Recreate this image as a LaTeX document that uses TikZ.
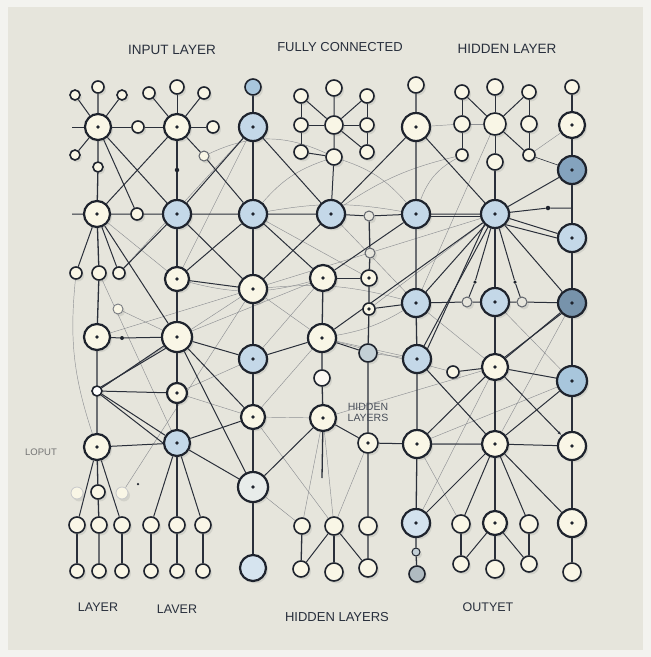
\documentclass[tikz,border=0pt]{standalone}
\usepackage{fontspec}
\setmainfont{Liberation Sans}
\usetikzlibrary{shadows,arrows.meta}
\definecolor{outer}{RGB}{243,243,239}
\definecolor{panel}{RGB}{230,229,220}
\definecolor{ink}{RGB}{30,35,45}
\definecolor{cream}{RGB}{249,246,230}
\definecolor{lblue}{RGB}{196,216,232}
\definecolor{mblue}{RGB}{168,198,220}
\definecolor{dblue}{RGB}{132,163,190}
\definecolor{gblue}{RGB}{196,208,214}
\definecolor{pale}{RGB}{232,236,234}
\definecolor{edgec}{RGB}{42,47,58}
\definecolor{thinc}{RGB}{128,131,136}
\definecolor{txt}{RGB}{40,47,60}
\pgfdeclarelayer{back}
\pgfdeclarelayer{edges}
\pgfsetlayers{back,edges,main}
\tikzset{
  nd/.style={circle, draw=ink, inner sep=0pt, line width=2.2pt, minimum size={2pt*#1},
    drop shadow={shadow xshift=2pt, shadow yshift=-2.4pt, opacity=0.15, fill=black!60}},
  sm/.style={line width=1.6pt},
  cr/.style={fill=cream},
  lb/.style={fill=lblue},
  mb/.style={fill=mblue},
  db/.style={fill=dblue},
  gb/.style={fill=gblue},
  pl/.style={fill=pale},
  ho/.style={fill=panel, draw=ink!70, line width=1pt},
  dt/.style={path picture={\fill[ink] (path picture bounding box.center) circle (1.8pt);}},
  dd/.style={circle, fill=ink, inner sep=0pt, minimum size=#1},
  ed/.style={draw=edgec, line width=1pt},
  vl/.style={draw=edgec, line width=1.3pt},
  gl/.style={draw=thinc, line width=0.45pt, opacity=0.85},
  ttl/.style={text=txt, font=\fontsize{13.5}{15}\selectfont, inner sep=0pt},
  btm/.style={text=txt, font=\fontsize{12.5}{14}\selectfont, inner sep=0pt},
}
\begin{document}
\begin{tikzpicture}[x=1pt, y=-1pt]
\useasboundingbox (0,0) rectangle (651,657);
\begin{pgfonlayer}{back}
\fill[outer] (0,0) rectangle (651,657);
\fill[panel] (8,7) rectangle (643,650);
\end{pgfonlayer}

% ---------- titles ----------
\node[ttl] (t1) at (172,50) {INPUT LAYER};
\node[ttl, font=\fontsize{13}{15}\selectfont] (t2) at (340,47) {FULLY CONNECTED};
\node[ttl] (t3) at (507,49) {HIDDEN LAYER};
\node[btm] (t4) at (98,607) {LAYER};
\node[btm] (t5) at (177,609) {LAVER};
\node[btm, font=\fontsize{13}{15}\selectfont] (t6) at (337,617) {HIDDEN LAYERS};
\node[btm] (t7) at (488,607) {OUTYET};
\node[text=black!55, font=\fontsize{9.5}{11}\selectfont, inner sep=0pt] (t8) at (41,452) {LOPUT};
\node[text=txt!85, font=\fontsize{10.5}{12}\selectfont, inner sep=0pt, align=center] (t9) at (368,412) {HIDDEN\\[-1pt]LAYERS};

% ---------- column 1 ----------
\coordinate (s1) at (72,127);
\coordinate (s2) at (72,214);
\node[nd=5,sm,cr] (a0s1) at (75,95) {};
\node[nd=6,sm,cr] (a0s2) at (98,87) {};
\node[nd=5,sm,cr] (a0s3) at (122,95) {};
\node[nd=13,cr,dt] (a1) at (98,127) {};
\node[nd=5,sm,cr] (a0s4) at (75,155) {};
\node[nd=5,sm,cr] (a0s5) at (98,167) {};
\node[nd=6,sm,cr] (a1m) at (138,127) {};
\node[nd=13,cr,dt] (a2) at (97,214) {};
\node[nd=6,sm,cr] (a2m) at (137,214) {};
\node[nd=6,sm,cr] (a3l) at (76,273) {};
\node[nd=7,sm,cr] (a3) at (99,273) {};
\node[nd=6,sm,cr] (a3r) at (119,273) {};
\node[nd=5,sm,cr,draw=ink!60,line width=0.9pt] (a3b) at (118,309) {};
\node[nd=13,cr,dt] (a4) at (97,337) {};
\node[dd=4pt] (a4d) at (122,338) {};
\node[nd=5,sm,fill=white] (a5) at (97,391) {};
\node[nd=13,cr,dt] (a6) at (97,447) {};
\node[nd=7,sm,cr] (a7) at (98,492) {};
\node[nd=6,sm,cr,draw=ink!25,line width=0.8pt] (a7l) at (77,493) {};
\node[nd=6,sm,cr,draw=ink!25,line width=0.8pt] (a7r) at (122,493) {};
\node[dd=2.5pt] (a7d) at (138,484) {};
\node[nd=8,sm,cr] (a8a) at (77,525) {};
\node[nd=8,sm,cr] (a8b) at (99,525) {};
\node[nd=8,sm,cr] (a8c) at (122,525) {};
\node[nd=7,sm,cr] (a9a) at (77,571) {};
\node[nd=7,sm,cr] (a9b) at (99,571) {};
\node[nd=7,sm,cr] (a9c) at (122,571) {};

% ---------- column 2 ----------
\node[nd=6,sm,cr] (b0s1) at (149,93) {};
\node[nd=7,sm,cr] (b0s2) at (177,87) {};
\node[nd=6,sm,cr] (b0s3) at (204,93) {};
\node[nd=13,cr,dt] (b1) at (177,127) {};
\node[nd=6,sm,cr] (b1m) at (213,127) {};
\node[nd=5,sm,cr,draw=ink!70,line width=1pt] (b1s) at (204,156) {};
\node[dd=4.5pt] (b1d) at (177,170) {};
\node[nd=14,lb,dt] (b2) at (177,214) {};
\node[nd=12,cr,dt] (b3) at (177,279) {};
\node[nd=15,cr,dt] (b4) at (177,337) {};
\node[nd=10,cr,dt] (b5) at (177,393) {};
\node[nd=13,lb,dt] (b6) at (177,443) {};
\node[nd=8,sm,cr] (b8a) at (151,525) {};
\node[nd=8,sm,cr] (b8b) at (177,525) {};
\node[nd=8,sm,cr] (b8c) at (203,525) {};
\node[nd=7,sm,cr] (b9a) at (151,571) {};
\node[nd=7,sm,cr] (b9b) at (177,571) {};
\node[nd=7,sm,cr] (b9c) at (203,571) {};

% ---------- column 3 ----------
\node[nd=8,sm,mb] (c0) at (253,87) {};
\node[nd=14,lb,dt] (c1) at (253,127) {};
\node[nd=14,lb,dt] (c2) at (253,214) {};
\node[nd=14,cr,dt] (c3) at (253,289) {};
\node[nd=14,lb,dt] (c4) at (253,359) {};
\node[nd=12,cr,dt] (c5) at (253,417) {};
\node[nd=15,pl,dt] (c6) at (253,487) {};
\node[nd=13,fill=lblue!70!white] (c9) at (253,568) {};

% ---------- column 4 / 5 ----------
\node[nd=7,sm,cr] (d0a) at (301,96) {};
\node[nd=8,sm,cr] (d0b) at (334,88) {};
\node[nd=7,sm,cr] (d0c) at (367,96) {};
\node[nd=7,sm,cr] (d1a) at (301,125) {};
\node[nd=9,sm,cr] (d1b) at (334,125) {};
\node[nd=7,sm,cr] (d1c) at (367,125) {};
\node[nd=7,sm,cr] (d2a) at (301,152) {};
\node[nd=8,sm,cr] (d2b) at (334,157) {};
\node[nd=7,sm,cr] (d2c) at (367,152) {};
\node[nd=14,lb,dt] (d3) at (331,214) {};
\node[nd=5,ho] (d3m) at (369,216) {};
\node[nd=5,ho] (d3n) at (370,253) {};
\node[nd=13,cr,dt] (d4) at (323,278) {};
\node[nd=8,sm,cr,dt] (d4m) at (369,278) {};
\node[nd=6,sm,cr,dt] (d4n) at (369,309) {};
\node[nd=14,cr,dt] (d5) at (322,338) {};
\node[nd=9,sm,gb] (d5m) at (368,353) {};
\node[nd=8,sm,fill=cream!80!brown!20] (d5s) at (322,378) {};
\node[nd=13,cr,dt] (d6) at (323,418) {};
\node[nd=10,sm,cr,dt] (d6m) at (368,443) {};
\coordinate (d6e) at (322,478);
\node[nd=8,sm,cr] (d8a) at (302,526) {};
\node[nd=9,sm,cr] (d8b) at (334,526) {};
\node[nd=9,sm,cr] (d8c) at (368,526) {};
\node[nd=8,sm,cr] (d9a) at (301,569) {};
\node[nd=9,sm,cr] (d9b) at (334,572) {};
\node[nd=9,sm,cr] (d9c) at (368,568) {};

% ---------- column 6 ----------
\node[nd=8,sm,cr] (e0) at (416,85) {};
\node[nd=14,cr,dt] (e1) at (416,127) {};
\node[nd=14,lb,dt] (e2) at (416,214) {};
\node[nd=14,lb,dt] (e3) at (416,303) {};
\node[nd=14,lb,dt] (e4) at (417,359) {};
\node[nd=6,sm,cr] (e4m) at (453,372) {};
\node[nd=14,cr,dt] (e5) at (417,444) {};
\node[nd=14,fill=lblue!75!white,dt] (e6) at (416,523) {};
\node[nd=4,sm,gb,line width=1pt] (e6s) at (416,552) {};
\node[nd=8,sm,fill=gblue!90!black] (e7) at (417,574) {};

% ---------- column 7 ----------
\node[nd=7,sm,cr] (f0a) at (462,92) {};
\node[nd=8,sm,cr] (f0b) at (495,87) {};
\node[nd=7,sm,cr] (f0c) at (529,92) {};
\node[nd=8,sm,cr] (f1a) at (462,124) {};
\node[nd=11,sm,cr] (f1b) at (495,124) {};
\node[nd=8,sm,cr] (f1c) at (529,124) {};
\node[nd=6,sm,cr] (f2a) at (462,155) {};
\node[nd=8,sm,cr] (f2b) at (495,162) {};
\node[nd=6,sm,cr] (f2c) at (529,155) {};
\node[nd=14,lb,dt] (f3) at (495,214) {};
\node[dd=4.5pt] (f3d) at (548,208) {};
\coordinate (g23) at (572,208);
\node[dd=3.5pt] (f4dl) at (475,282) {};
\node[dd=3.5pt] (f4dr) at (515,282) {};
\node[nd=5,ho] (f4l) at (467,302) {};
\node[nd=14,lb,dt] (f4) at (495,302) {};
\node[nd=5,ho] (f4r) at (522,302) {};
\node[nd=13,cr,dt] (f5) at (495,367) {};
\node[nd=13,cr,dt] (f6) at (495,444) {};
\node[nd=9,sm,cr] (f8a) at (461,524) {};
\node[nd=12,cr,dt] (f8b) at (495,523) {};
\node[nd=9,sm,cr] (f8c) at (529,524) {};
\node[nd=8,sm,cr] (f9a) at (461,564) {};
\node[nd=9,sm,cr] (f9b) at (495,569) {};
\node[nd=8,sm,cr] (f9c) at (529,564) {};

% ---------- column 8 ----------
\node[nd=7,sm,cr] (g0) at (572,87) {};
\node[nd=13,cr,dt] (g1) at (572,125) {};
\node[nd=14,db,dt] (g2) at (572,170) {};
\node[nd=14,lb,dt] (g3) at (572,238) {};
\node[nd=14,fill=dblue!90!black,dt] (g4) at (572,303) {};
\node[nd=15,mb,dt] (g5) at (572,381) {};
\node[nd=14,cr,dt] (g6) at (572,446) {};
\node[nd=14,cr,dt] (g7) at (572,523) {};
\node[nd=9,sm,cr] (g9) at (572,572) {};

% ================= connectors =================
\begin{pgfonlayer}{edges}
% thin gray background lines
\draw[gl] (c1) -- (a3r);
\draw[gl] (c1) -- (b3);
\draw[gl] (a2) -- (b3);
\draw[gl] (c2) -- (d4m);
\draw[gl] (d2b) to[bend right=15] (c2);
\draw[gl] (d2b) to[bend left=15] (e2);
\draw[gl] (d2b) to[bend right=25] (b1s);
\draw[gl] (f2a) to[bend right=20] (e2);
\draw[gl] (f2a) to[bend right=10] (d3);
\draw[gl] (f1b) -- (e3);
\draw[gl] (e1) -- (f1a);
\draw[gl] (f1a) -- (f1b);
\draw[gl] (g1) -- (f2c);
\draw[gl] (a5) -- (c3);
\draw[gl] (a3b) -- (b4);
\draw[gl] (a3l) to[bend right=12] (a6);
\draw[gl] (a7r) -- (c3);
\draw[gl] (a3) -- (b6);
\draw[gl] (b5) -- (c4);
\draw[gl] (b5) -- (c5);
\draw[gl] (c3) -- (d5);
\draw[gl] (c5) -- (d6);
\draw[gl] (c5) -- (d5);
\draw[gl] (c3) to[bend left=10] (e3);
\draw[gl] (d5) -- (e4);
\draw[gl] (e3) to[bend left=10] (d5);
\draw[gl] (d5m) -- (e4);
\draw[gl] (f5) -- (e3);
\draw[gl] (f5) -- (d6);
\draw[gl] (f6) -- (e4);
\draw[gl] (f6) -- (d6m);
\draw[gl] (g5) -- (e5);
\draw[gl] (g5) -- (f4);
\draw[gl] (g4) -- (f6);
\draw[gl] (c6) -- (d8a);
\draw[gl] (d6) -- (d8a);
\draw[gl] (d6) -- (d8b);
\draw[gl] (d6m) -- (d8b);
\draw[gl] (e5) -- (f8a);
\draw[gl] (c4) -- (d4);
\draw[gl] (b3) to[bend right=15] (d4);
\draw[gl] (c2) to[bend left=10] (e2);
\draw[gl] (d3) -- (e3);
\draw[gl] (e4m) -- (d5);
\draw[gl] (e6) -- (f5);
\draw[gl] (c5) -- (d8b);
\draw[gl] (a4) -- (c3);
\draw[gl] (b4) -- (d4);
\draw[gl] (f3) -- (d4n);
\draw[gl] (f3) -- (c3);

% column verticals
\draw[vl] (a0s2) -- (a1) -- (a0s5) -- (a2) -- (a3) -- (a4) -- (a5) -- (a6) -- (a7) -- (a8b) -- (a9b);
\draw[vl] (b1) -- (b1d) -- (b2) -- (b3) -- (b4) -- (b5) -- (b6) -- (b8b) -- (b9b);
\draw[vl] (c0) -- (c1) -- (c2) -- (c3) -- (c4) -- (c5) -- (c6) -- (c9);
\draw[vl] (d4) -- (d5) -- (d5s) -- (d6) -- (d6e);
\draw[vl] (d3m) -- (d3n) -- (d4m) -- (d4n) -- (d5m) -- (d6m) -- (d8c) -- (d9c);
\draw[vl] (e0) -- (e1) -- (e2) -- (e3) -- (e4) -- (e5) -- (e6) -- (e6s) -- (e7);
\draw[vl] (f2b) -- (f3) -- (f4) -- (f5) -- (f6) -- (f8b) -- (f9b);
\draw[vl] (g0) -- (g1) -- (g2) -- (g3) -- (g4) -- (g5) -- (g6) -- (g7) -- (g9);

% clusters
\draw[ed] (a0s1) -- (a1);
\draw[ed] (a0s3) -- (a1);
\draw[ed] (a0s4) -- (a1);
\draw[ed] (s1) -- (a1) -- (a1m) -- (b1);
\draw[ed] (b0s1) -- (b1);
\draw[ed] (b0s2) -- (b1);
\draw[ed] (b0s3) -- (b1);
\draw[ed] (b1) -- (b1m);
\draw[ed] (b1) -- (b1s) -- (c2);
\draw[ed] (d0a) -- (d1a) -- (d2a);
\draw[ed] (d0a) -- (d1b);
\draw[ed] (d0b) -- (d1b) -- (d2b) -- (d3);
\draw[ed] (d0c) -- (d1b);
\draw[ed] (d0c) -- (d1c) -- (d2c);
\draw[ed] (d1a) -- (d1b) -- (d1c);
\draw[ed] (d1b) -- (d2c);
\draw[ed] (d2a) -- (d2b);
\draw[ed] (f0a) -- (f1a) -- (f2a);
\draw[ed] (f0a) -- (f1b);
\draw[ed] (f0b) -- (f1b) -- (f2b);
\draw[ed] (f0c) -- (f1b);
\draw[ed] (f0c) -- (f1c) -- (f2c);
\draw[ed] (f1b) -- (f2c);
\draw[ed, line width=0.6pt] (f2c) -- (g2);

% horizontals
\draw[ed] (s2) -- (a2) -- (a2m) -- (b2) -- (c2) -- (d3) -- (d3m) -- (e2) -- (f3);
\draw[ed] ([yshift=-2.5pt]e2.east) -- ([yshift=-2.5pt]f3.west);
\draw[ed] (f3) -- (f3d) -- (g23);
\draw[ed] (a4) -- (a4d) -- (b4);
\draw[ed] (a6) -- (b6);
\draw[ed] (d4) -- (d4m);
\draw[ed] (d4n) -- (e3);
\draw[ed] (e3) -- (f4l) -- (f4) -- (f4r) -- (g4);
\draw[ed] (d6) -- (d6m) -- (e5) -- (f6) -- (g6);
\draw[ed] (d5) -- (d5m);
\draw[ed] (b3) -- (c3);

% diagonals
\draw[ed] (a1) -- (b2);
\draw[ed] (a1) -- (a2m);
\draw[ed] (b1) -- (a2);
\draw[ed] (c1) -- (b2);
\draw[ed] (c1) -- (d3);
\draw[ed] (e1) -- (d3);
\draw[ed] (e1) -- (f3);
\draw[ed] (a2) -- (a3l);
\draw[ed] (a2) -- (a3r);
\draw[ed] (a2) -- (b4);
\draw[ed] (b2) -- (a3r);
\draw[ed] (b2) -- (c3);
\draw[ed] (c2) -- (b3);
\draw[ed] (c2) -- (d4);
\draw[ed] (d3) -- (c3);
\draw[ed] (e2) -- (d4);
\draw[ed] (a5) -- (b4);
\draw[ed] (a5.north east) -- (b4.south west);
\draw[ed] (a5) -- (b5);
\draw[ed] (a5) -- (b6);
\draw[ed] (a5.south east) -- (b6.west);
\draw[ed] (b4) -- (c4);
\draw[ed] (b4) -- (c5);
\draw[ed] (b4) -- (c6);
\draw[ed] (b6) -- (c5);
\draw[ed] (b6) -- (c6);
\draw[ed] (c4) -- (d5);
\draw[ed] (c6) -- (d6);
\draw[ed] (e4) -- (f6);
\draw[ed] (e4m) -- (f5);
\draw[ed] (g4) -- (f5);
\draw[ed] (g4.south west) -- (f5.north east);
\draw[ed] (e5) -- (f5);
\draw[ed] (f5) -- (g5);
\draw[ed, -{Latex[length=4pt,width=3pt]}] (f5) -- (g6);
\draw[ed] (g5) -- (f6);
\draw[ed] (f6) -- (e6);
% hub
\draw[ed] (f3) -- (g3);
\draw[ed] (f3.south east) -- (g3.west);
\draw[ed] (f3) -- (g4);
\draw[ed] (f3) -- (g2);
\draw[ed] (f3) -- (f4dr) -- (f4r);
\draw[ed] (f3) -- (f4dl) -- (f4l);
\draw[ed] (f3) -- (e3);
\draw[ed] (f3) -- (d5);
\draw[ed] (f3) -- (e4);
\draw[ed] (f3.south west) -- (e4.north east);
% bottom groups
\draw[ed] (a6) -- (a8a);
\draw[ed] (a6) -- (a8c);
\draw[vl] (a8a) -- (a9a);
\draw[vl] (a8c) -- (a9c);
\draw[ed] (b6) -- (b8a);
\draw[ed] (b6) -- (b8c);
\draw[vl] (b8a) -- (b9a);
\draw[vl] (b8c) -- (b9c);
\draw[vl] (d8a) -- (d9a);
\draw[vl] (d8b) -- (d9b);
\draw[ed] (d8b) -- (d9a);
\draw[ed] (d8b) -- (d9c);
\draw[ed] (f6) -- (f8a);
\draw[ed] (f6) -- (f8c);
\draw[ed] (f6) -- (g7);
\draw[vl] (f8a) -- (f9a);
\draw[vl] (f8c) -- (f9c);
\draw[ed] (f9a) -- (f8b);
\draw[ed] (f8b) -- (f9c);
\end{pgfonlayer}
\end{tikzpicture}
\end{document}
